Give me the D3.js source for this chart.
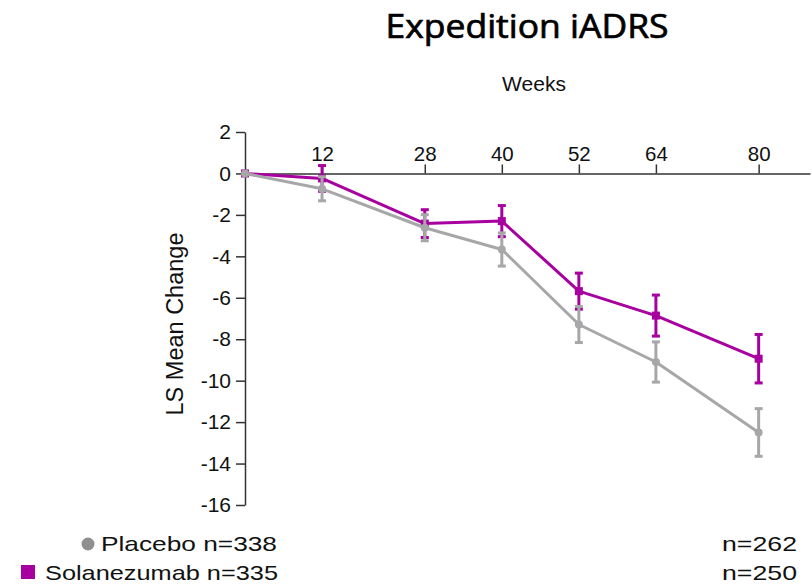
<!DOCTYPE html>
<html>
<head>
<meta charset="utf-8">
<script src="https://cdn.jsdelivr.net/npm/d3@7"></script>
<style>
  html, body { margin: 0; padding: 0; background: #fff; }
  svg { display: block; }
  text { font-family: "Liberation Sans", Arial, sans-serif; fill: #111; }
</style>
</head>
<body>
<svg id="chart" width="812" height="587"></svg>
<script>
// Study visits (weeks) and LS mean change from baseline in iADRS
const weeks = [0, 12, 28, 40, 52, 64, 80];
const weekTicks = [12, 28, 40, 52, 64, 80];
const yTicks = [2, 0, -2, -4, -6, -8, -10, -12, -14, -16];

const placeboMean = [0, -0.74, -2.62, -3.67, -7.29, -9.10, -12.50];
const placeboErr  = [0, 0.58, 0.63, 0.80, 0.87, 0.97, 1.15];

const solaMean = [0, -0.24, -2.42, -2.30, -5.68, -6.86, -8.94];
const solaErr  = [0, 0.62, 0.67, 0.75, 0.87, 0.99, 1.17];

const legendLabels = ["Placebo n=338", "Solanezumab n=335"];
const finalN = ["n=262", "n=250"];

const GREY = "#a7a7a9";
const MAGENTA = "#a8009f";

const svg = d3.select("#chart");

const x = d3.scaleLinear().domain([0, 88]).range([245, 810]);
const y = d3.scaleLinear().domain([-16, 2]).range([505, 132]);

// Title
svg.append("text")
  .attr("x", 527).attr("y", 38)
  .attr("text-anchor", "middle")
  .attr("textLength", 283).attr("lengthAdjust", "spacingAndGlyphs")
  .style("font-family", "'Open Sans', Roboto, sans-serif")
  .style("font-weight", 400)
  .style("font-size", "32px")
  .style("fill", "#000")
  .style("stroke", "#000")
  .style("stroke-width", 0.7)
  .text("Expedition iADRS");

// Axis titles
svg.append("text")
  .attr("x", 534).attr("y", 91)
  .attr("text-anchor", "middle")
  .style("font-size", "21px")
  .text("Weeks");

svg.append("text")
  .attr("transform", `translate(183,324) rotate(-90)`)
  .attr("text-anchor", "middle")
  .style("font-size", "23.5px")
  .text("LS Mean Change");

// Axes
const yAxis = d3.axisLeft(y)
  .tickValues(yTicks)
  .tickFormat(d => String(d))
  .tickSizeInner(9).tickSizeOuter(0).tickPadding(5);

const gy = svg.append("g").attr("transform", `translate(${x(0)},0)`).call(yAxis);
gy.selectAll("text").style("font-size", "21px").style("fill", "#111");

const xAxis = d3.axisTop(x)
  .tickValues(weekTicks)
  .tickSizeInner(9).tickSizeOuter(0).tickPadding(3);

const gx = svg.append("g").attr("transform", `translate(0,${y(0)})`).call(xAxis);
gx.selectAll("text").style("font-size", "20.5px").style("fill", "#111");

[gx, gy].forEach(g => {
  g.select(".domain").attr("stroke", "#333").attr("stroke-width", 1.5);
  g.selectAll(".tick line").attr("stroke", "#333").attr("stroke-width", 1.5);
  g.attr("font-family", null).attr("font-size", null);
});

// Series
function drawSeries(means, errs, color, shape) {
  const pts = weeks.map((w, i) => ({ w, m: means[i], e: errs[i] }));
  const g = svg.append("g");

  g.append("path")
    .datum(pts)
    .attr("fill", "none")
    .attr("stroke", color)
    .attr("stroke-width", 3)
    .attr("stroke-linejoin", "round")
    .attr("d", d3.line().x(d => x(d.w)).y(d => y(d.m)));

  const bars = g.selectAll(".err").data(pts.filter(d => d.e > 0)).join("g");
  bars.append("line")
    .attr("x1", d => x(d.w)).attr("x2", d => x(d.w))
    .attr("y1", d => y(d.m + d.e)).attr("y2", d => y(d.m - d.e))
    .attr("stroke", color).attr("stroke-width", 3);
  [1, -1].forEach(s => {
    bars.append("line")
      .attr("x1", d => x(d.w) - 4).attr("x2", d => x(d.w) + 4)
      .attr("y1", d => y(d.m + s * d.e)).attr("y2", d => y(d.m + s * d.e))
      .attr("stroke", color).attr("stroke-width", 3);
  });

  if (shape === "square") {
    g.selectAll(".mk").data(pts).join("rect")
      .attr("x", d => x(d.w) - 4).attr("y", d => y(d.m) - 4)
      .attr("width", 8).attr("height", 8)
      .attr("fill", color);
  } else {
    g.selectAll(".mk").data(pts).join("circle")
      .attr("cx", d => x(d.w)).attr("cy", d => y(d.m))
      .attr("r", 4)
      .attr("fill", color);
  }
}

drawSeries(solaMean, solaErr, MAGENTA, "square");
drawSeries(placeboMean, placeboErr, GREY, "circle");

// Legend
svg.append("circle").attr("cx", 88).attr("cy", 544).attr("r", 6.5).attr("fill", "#8f8f8f");
svg.append("rect").attr("x", 21).attr("y", 565).attr("width", 14).attr("height", 14).attr("fill", MAGENTA);

svg.append("text").attr("x", 101).attr("y", 551)
  .attr("textLength", 176).attr("lengthAdjust", "spacingAndGlyphs")
  .style("font-size", "21px").text(legendLabels[0]);
svg.append("text").attr("x", 45).attr("y", 580)
  .attr("textLength", 233).attr("lengthAdjust", "spacingAndGlyphs")
  .style("font-size", "21px").text(legendLabels[1]);

svg.append("text").attr("x", 722).attr("y", 551)
  .attr("textLength", 75).attr("lengthAdjust", "spacingAndGlyphs")
  .style("font-size", "21px").text(finalN[0]);
svg.append("text").attr("x", 722).attr("y", 580)
  .attr("textLength", 75).attr("lengthAdjust", "spacingAndGlyphs")
  .style("font-size", "21px").text(finalN[1]);
</script>
</body>
</html>
